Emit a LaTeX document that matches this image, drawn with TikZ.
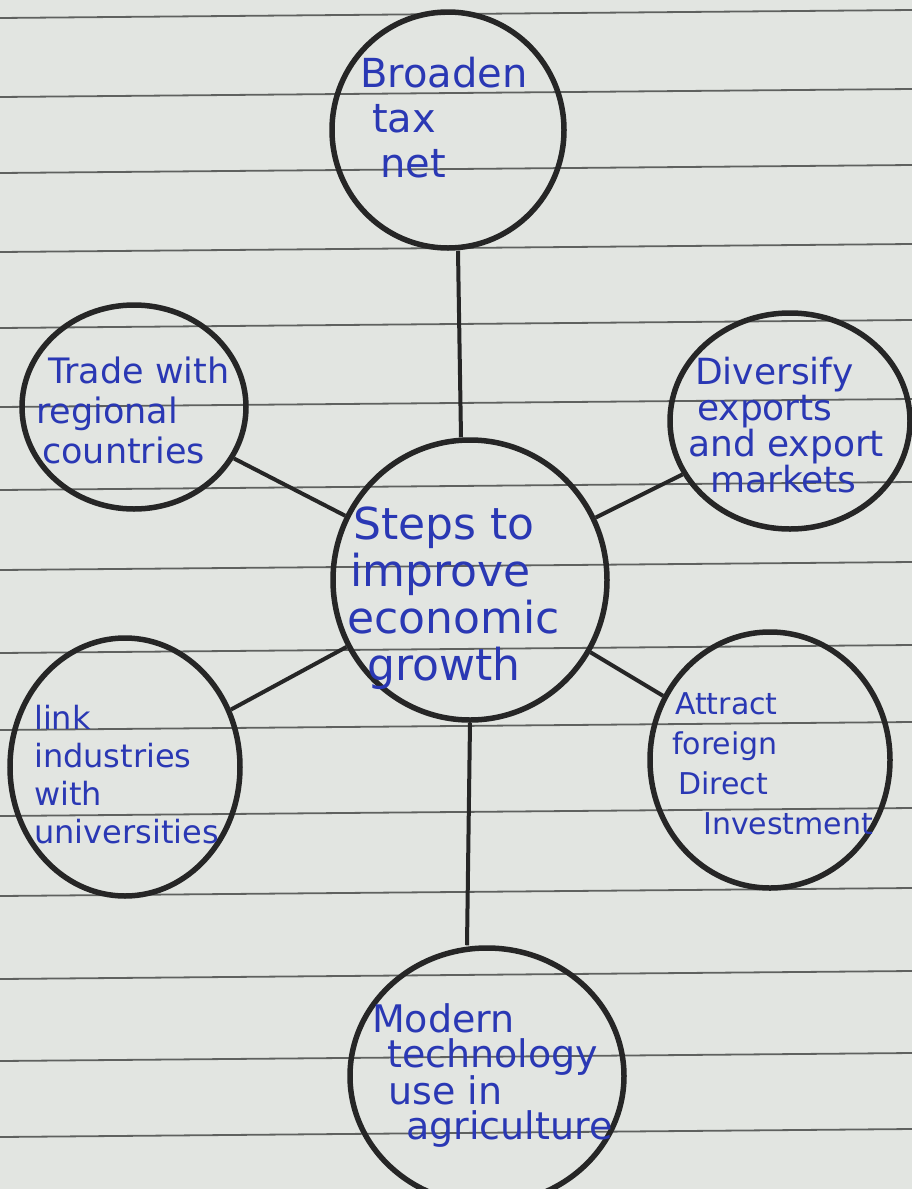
\documentclass[tikz,border=0pt]{standalone}
\usepackage{fontspec}
\setmainfont{DejaVu Sans}
\usetikzlibrary{shapes.geometric}
\definecolor{paper}{RGB}{226,229,225}
\definecolor{rule}{RGB}{95,97,95}
\definecolor{pen}{RGB}{38,38,38}
\definecolor{ink}{RGB}{42,56,180}
\begin{document}
\begin{tikzpicture}[x=1pt,y=-1pt,
  bubble/.style={draw=pen,line width=5.5pt,ellipse,inner sep=0pt},
  label/.style={text=ink,align=left,anchor=north west,inner sep=0pt},
  link/.style={draw=pen,line width=4pt}]
\useasboundingbox (0,0) rectangle (912,1189);
\fill[paper] (0,0) rectangle (912,1189);
% ruled lines of the paper
\foreach \y in {18,97,173,252,328,407,490,570,653,730,816,896,979,1061,1137}
  \draw[rule,line width=1.8pt] (0,\y) -- (912,\y-8);
% bubbles
\node[bubble,minimum width=232pt,minimum height=236pt] (top) at (448,130) {};
\node[bubble,minimum width=224pt,minimum height=204pt] (lu) at (134,407) {};
\node[bubble,minimum width=240pt,minimum height=216pt] (ru) at (790,421) {};
\node[bubble,minimum width=274pt,minimum height=280pt] (mid) at (470,580) {};
\node[bubble,minimum width=230pt,minimum height=258pt] (ll) at (125,767) {};
\node[bubble,minimum width=240pt,minimum height=256pt] (rl) at (770,760) {};
\node[bubble,minimum width=274pt,minimum height=256pt] (bot) at (487,1076) {};
% connectors
\draw[link] ([xshift=10pt]top.south) -- ([xshift=-9pt]mid.north);
\draw[link] (mid.south) -- ([xshift=-20pt]bot.north);
\draw[link] (lu) -- (mid);
\draw[link] (ru) -- (mid);
\draw[link] (ll) -- (mid);
\draw[link] (rl) -- (mid);
% texts
\node[label,font=\fontsize{40}{45}\selectfont] (ttop) at (360,57) {Broaden\\\hspace*{12pt}tax\\\hspace*{20pt}net};
\node[label,font=\fontsize{35}{40}\selectfont] (tlu) at (36,357) {\hspace*{12pt}Trade with\\regional\\\hspace*{6pt}countries};
\node[label,font=\fontsize{36}{36}\selectfont] (tru) at (688,357) {\hspace*{7pt}Diversify\\\hspace*{9pt}exports\\and export\\\hspace*{22pt}markets};
\node[label,font=\fontsize{44}{47}\selectfont] (tmid) at (347,507) {\hspace*{6pt}Steps to\\\hspace*{3pt}improve\\economic\\\hspace*{20pt}growth};
\node[label,font=\fontsize{32}{38}\selectfont] (tll) at (34,705) {link\\industries\\with\\universities};
\node[label,font=\fontsize{30}{40}\selectfont] (trl) at (672,692) {\hspace*{3pt}Attract\\foreign\\\hspace*{6pt}Direct\\\hspace*{31pt}Investment};
\node[label,font=\fontsize{38}{35}\selectfont] (tbot) at (372,1003) {Modern\\\hspace*{15pt}technology\\\hspace*{16pt}use in\\\hspace*{34pt}agriculture};
\end{tikzpicture}
\end{document}
